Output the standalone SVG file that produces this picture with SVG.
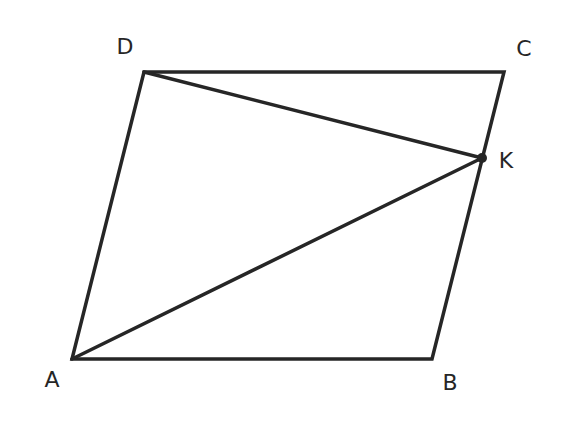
<svg xmlns="http://www.w3.org/2000/svg" width="576" height="432" viewBox="0 0 576 432">
<style>
.l{stroke:#262626;stroke-width:3.5;fill:none;stroke-linecap:round;stroke-linejoin:miter}
.t{font-family:"DejaVu Sans","Liberation Sans",sans-serif;font-size:22px;fill:#262626;text-anchor:middle}
</style>
<rect width="576" height="432" fill="#fff"/>
<g id="connectors">
<polygon class="l" points="72,359 432,359 504,72 144,72"/>
<line class="l" x1="144" y1="72" x2="482" y2="158"/>
<line class="l" x1="72" y1="359" x2="482" y2="158"/>
</g>
<g id="A"><text class="t" x="52" y="387">A</text></g>
<g id="B"><text class="t" x="450" y="390">B</text></g>
<g id="C"><text class="t" x="524" y="56">C</text></g>
<g id="D"><text class="t" x="125" y="54">D</text></g>
<g id="K"><circle cx="482" cy="158" r="5" fill="#262626"/><text class="t" x="506" y="168">K</text></g>
</svg>
